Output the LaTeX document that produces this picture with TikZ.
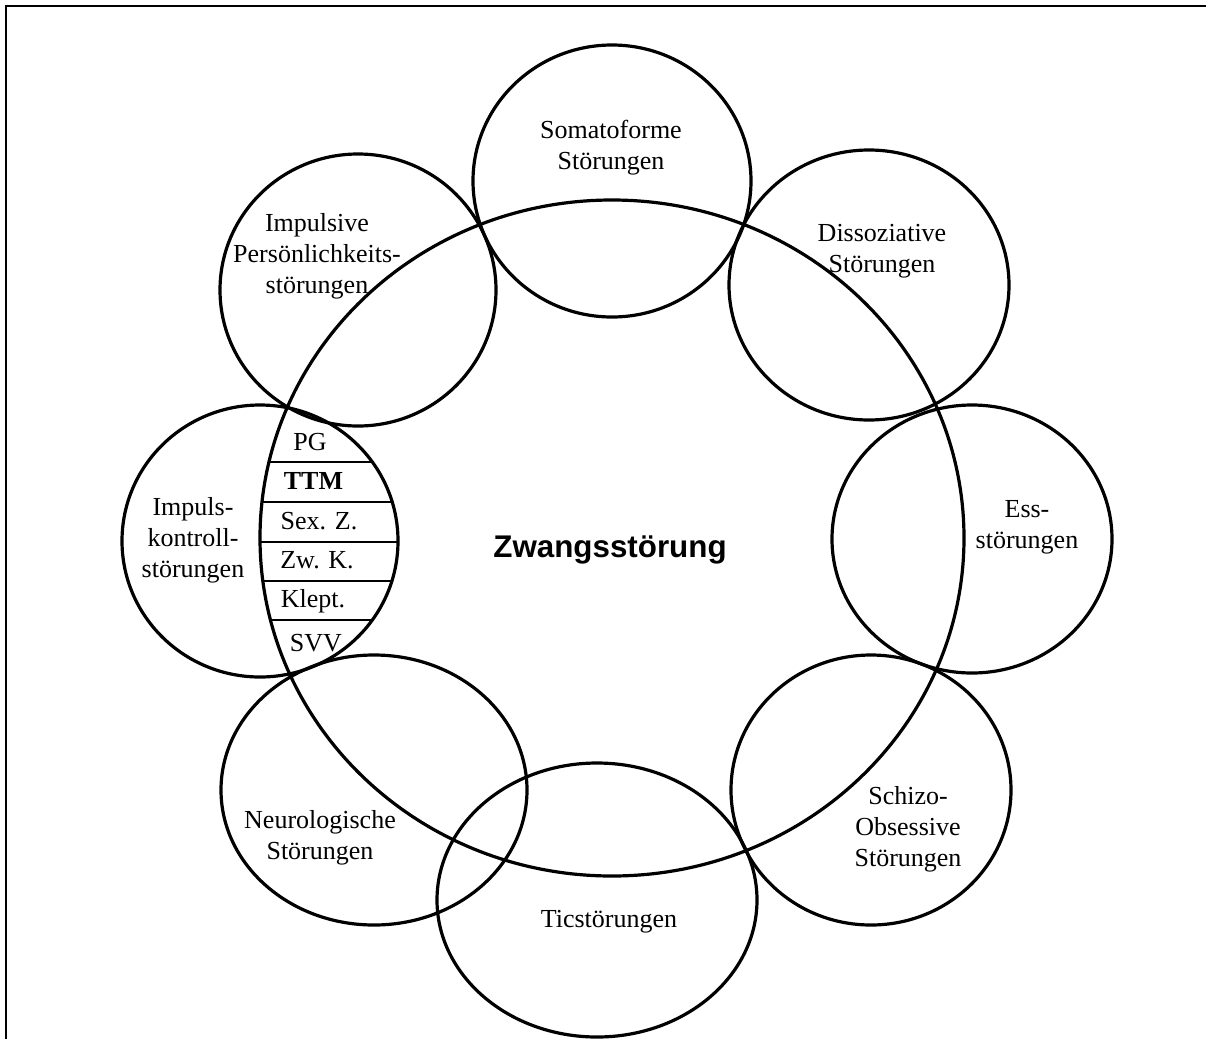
\documentclass[tikz,border=0pt]{standalone}
\usepackage{fontspec}
\setmainfont{Liberation Serif}
\newfontfamily\arialfont{Liberation Sans}
\begin{document}
\begin{tikzpicture}[x=0.75pt,y=-0.75pt,
  ring/.style={line width=2.4pt},
  sepline/.style={line width=1.5pt},
  frameline/.style={line width=1.5pt},
  lbl/.style={align=center,inner sep=0pt,font=\fontsize{19.5}{23.4}\selectfont},
  cell/.style={inner sep=0pt,anchor=base,font=\fontsize{19.5}{23.4}\selectfont},
  title/.style={inner sep=0pt,anchor=base,font=\arialfont\bfseries\fontsize{23.5}{28}\selectfont}]
\useasboundingbox (0,0) rectangle (1206,1039);
% frame (clipped in the original: only top and left edges visible)
\coordinate (fTL) at (6,6);
\coordinate (fTR) at (1206,6);
\coordinate (fBL) at (6,1039);
\draw[frameline] (fTR) -- (fTL) -- (fBL);
% centres
\coordinate (cBig) at (612,538);
\coordinate (cSoma) at (612,181);
\coordinate (cImpP) at (358,290);
\coordinate (cDiss) at (869,285);
\coordinate (cImpK) at (260,541);
\coordinate (cEss) at (972,539);
\coordinate (cNeuro) at (374,790);
\coordinate (cTic) at (597,900);
\coordinate (cSchizo) at (871,790);
% separators in the lens
\begin{scope}
\clip (cImpK) ellipse [x radius=138, y radius=136];
\clip (cBig) ellipse [x radius=352, y radius=338];
\foreach \yy in {462,502,542,581,620} \draw[sepline] (200,\yy) -- (450,\yy);
\end{scope}
% circles
\draw[ring] (cBig) ellipse [x radius=352, y radius=338];
\draw[ring] (cSoma) ellipse [x radius=139, y radius=136];
\draw[ring] (cImpP) ellipse [x radius=138, y radius=136];
\draw[ring] (cDiss) ellipse [x radius=140, y radius=135];
\draw[ring] (cImpK) ellipse [x radius=138, y radius=136];
\draw[ring] (cEss) ellipse [x radius=140, y radius=134];
\draw[ring] (cNeuro) ellipse [x radius=153, y radius=135];
\draw[ring] (cTic) ellipse [x radius=160, y radius=137];
\draw[ring] (cSchizo) ellipse [x radius=140, y radius=135];
% labels
\node[title] (zw) at (610,557) {Zwangsstörung};
\node[lbl] (tSoma) at (611,148) {Somatoforme\\Störungen};
\node[lbl] (tImpP) at (317,256) {Impulsive\\Persönlichkeits-\\störungen};
\node[lbl] (tDiss) at (882,251) {Dissoziative\\Störungen};
\node[lbl] (tEss) at (1027,527) {Ess-\\störungen};
\node[lbl] (tSchizo) at (908,829) {Schizo-\\Obsessive\\Störungen};
\node[lbl] (tTic) at (609,922) {Ticstörungen};
\node[lbl] (tNeuro) at (320,838) {Neurologische\\Störungen};
\node[lbl] (tImpK) at (193,540) {Impuls-\\kontroll-\\störungen};
% lens cells
\node[cell] (pg) at (310,450) {PG};
\node[cell,font=\bfseries\fontsize{19.5}{23.4}\selectfont] (ttm) at (313.5,489.5) {TTM};
\node[cell] (sexz) at (319,529) {Sex. Z.};
\node[cell] (zwk) at (317,568.5) {Zw. K.};
\node[cell] (klept) at (313,607) {Klept.};
\node[cell] (svv) at (316,651) {SVV};
\end{tikzpicture}
\end{document}
